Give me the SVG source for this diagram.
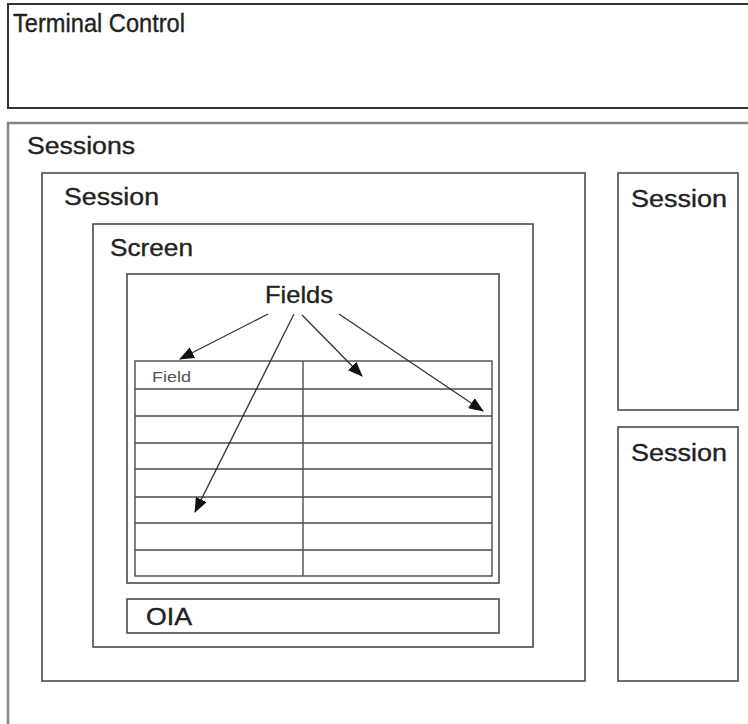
<svg xmlns="http://www.w3.org/2000/svg" width="748" height="724" viewBox="0 0 748 724">
<style>
.box{fill:none;stroke:#4a4a4a;stroke-width:1.6}
.outer{fill:none;stroke:#858585;stroke-width:2.5}
.tc{fill:none;stroke:#333;stroke-width:2}
.lbl{font-family:"Liberation Sans",Arial,sans-serif;fill:#222;stroke:#222;stroke-width:0.35}
.grid{stroke:#4a4a4a;stroke-width:1.4;fill:none}
.conn{stroke:#333;stroke-width:1.3;fill:none}
</style>
<defs>
<marker id="ah" markerUnits="userSpaceOnUse" markerWidth="16" markerHeight="12" refX="14" refY="6" orient="auto">
<path d="M0,0 L15,6 L0,12 Z" fill="#111"/>
</marker>
</defs>
<rect width="748" height="724" fill="#fff"/>
<g id="terminal-control">
<rect class="tc" x="8" y="4" width="750" height="104"/>
<text class="lbl" x="13" y="32" font-size="26" textLength="172" lengthAdjust="spacingAndGlyphs">Terminal Control</text>
</g>
<g id="sessions">
<rect class="outer" x="8" y="123" width="750" height="620"/>
<text class="lbl" x="27" y="154" font-size="23" textLength="108" lengthAdjust="spacingAndGlyphs">Sessions</text>
</g>
<g id="session-main">
<rect class="box" x="42" y="173" width="543" height="508"/>
<text class="lbl" x="64" y="205" font-size="23" textLength="95" lengthAdjust="spacingAndGlyphs">Session</text>
</g>
<g id="screen">
<rect class="box" x="93" y="224" width="440" height="423"/>
<text class="lbl" x="110" y="256" font-size="23" textLength="83" lengthAdjust="spacingAndGlyphs">Screen</text>
</g>
<g id="fields">
<rect class="box" x="127" y="274" width="372" height="309"/>
<text class="lbl" x="265" y="303" font-size="24" textLength="68" lengthAdjust="spacingAndGlyphs">Fields</text>
</g>
<g id="field-table">
<rect class="grid" x="135" y="361" width="357" height="215"/>
<line class="grid" x1="303" y1="361" x2="303" y2="576"/>
<line class="grid" x1="135" y1="389" x2="492" y2="389"/>
<line class="grid" x1="135" y1="416" x2="492" y2="416"/>
<line class="grid" x1="135" y1="443" x2="492" y2="443"/>
<line class="grid" x1="135" y1="469" x2="492" y2="469"/>
<line class="grid" x1="135" y1="497" x2="492" y2="497"/>
<line class="grid" x1="135" y1="523" x2="492" y2="523"/>
<line class="grid" x1="135" y1="550" x2="492" y2="550"/>
<text class="lbl" x="152" y="382" font-size="15" style="fill:#555;stroke:none" textLength="39" lengthAdjust="spacingAndGlyphs">Field</text>
</g>
<g id="oia">
<rect class="box" x="127" y="599" width="372" height="34"/>
<text class="lbl" x="146" y="625" font-size="23" textLength="46" lengthAdjust="spacingAndGlyphs">OIA</text>
</g>
<g id="session-right-top">
<rect class="box" x="618" y="173" width="120" height="237"/>
<text class="lbl" x="631" y="207" font-size="23" textLength="96" lengthAdjust="spacingAndGlyphs">Session</text>
</g>
<g id="session-right-bottom">
<rect class="box" x="618" y="427" width="120" height="254"/>
<text class="lbl" x="631" y="461" font-size="23" textLength="96" lengthAdjust="spacingAndGlyphs">Session</text>
</g>
<g id="connectors">
<line class="conn" x1="268" y1="314" x2="180" y2="359" marker-end="url(#ah)"/>
<line class="conn" x1="294" y1="314" x2="195" y2="512" marker-end="url(#ah)"/>
<line class="conn" x1="302" y1="315" x2="362" y2="376" marker-end="url(#ah)"/>
<line class="conn" x1="339" y1="314" x2="483" y2="411" marker-end="url(#ah)"/>
</g>
</svg>
